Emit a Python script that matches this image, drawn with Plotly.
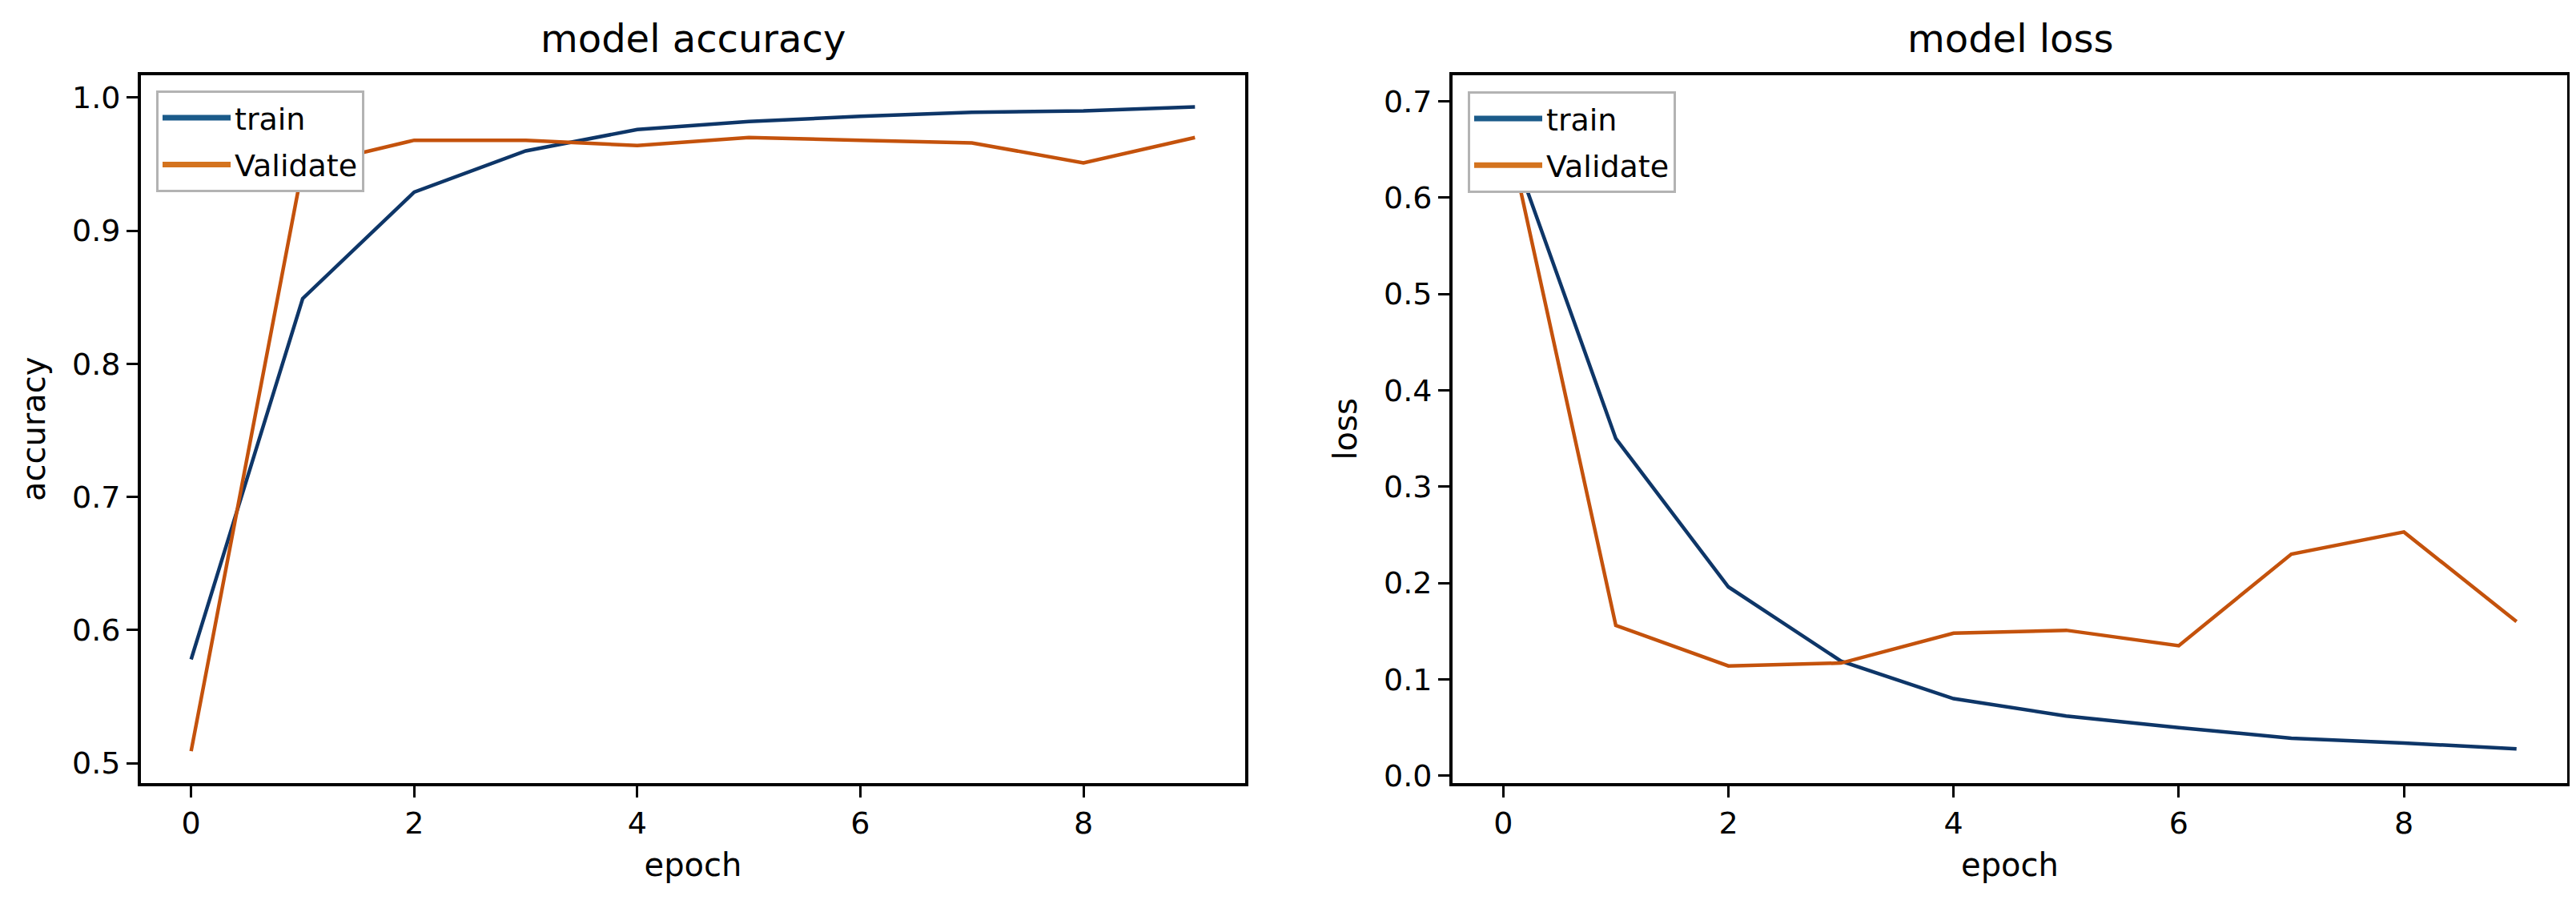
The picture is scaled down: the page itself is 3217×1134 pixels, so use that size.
import plotly.graph_objects as go

# ---- data ----
epochs = [0, 1, 2, 3, 4, 5, 6, 7, 8, 9]
train_acc = [0.578, 0.849, 0.929, 0.960, 0.976, 0.982, 0.986, 0.989, 0.990, 0.993]
val_acc = [0.509, 0.948, 0.968, 0.968, 0.964, 0.970, 0.968, 0.966, 0.951, 0.970]
train_loss = [0.677, 0.350, 0.196, 0.119, 0.080, 0.062, 0.050, 0.039, 0.034, 0.028]
val_loss = [0.690, 0.156, 0.114, 0.117, 0.148, 0.151, 0.135, 0.230, 0.253, 0.160]
x_ticks = [0, 2, 4, 6, 8]
acc_ticks = [0.5, 0.6, 0.7, 0.8, 0.9, 1.0]
loss_ticks = [0.0, 0.1, 0.2, 0.3, 0.4, 0.5, 0.6, 0.7]
series_names = ["train", "Validate"]

# ---- style ----
W, H = 3217, 1134
FONT = "DejaVu Sans"
BLUE_LINE = "#0e3668"
ORANGE_LINE = "#c4520c"
BLUE_KEY = "#1b5b8a"
ORANGE_KEY = "#d4731e"

fig = go.Figure()

def add_panel(xa, ya, legend, ys):
    for y, col in zip(ys, [BLUE_LINE, ORANGE_LINE]):
        fig.add_trace(go.Scatter(x=epochs, y=y, mode="lines", xaxis=xa, yaxis=ya,
                                 line=dict(color=col, width=4.5), showlegend=False))
    for name, col in zip(series_names, [BLUE_KEY, ORANGE_KEY]):
        fig.add_trace(go.Scatter(x=[None], y=[None], mode="lines", name=name,
                                 xaxis=xa, yaxis=ya, legend=legend,
                                 legendgroup=legend + name,
                                 line=dict(color=col, width=7), showlegend=True))

add_panel("x", "y", "legend", [train_acc, val_acc])
add_panel("x2", "y2", "legend2", [train_loss, val_loss])

ydom = [1 - 981 / H, 1 - 87 / H]
axis_common = dict(showline=True, linecolor="black", linewidth=4, mirror=True,
                   ticks="outside", ticklen=14, tickwidth=3, tickcolor="black",
                   showgrid=False, zeroline=False,
                   tickfont=dict(family=FONT, size=38, color="black"))

legend_common = dict(xanchor="left", yanchor="top",
                     bgcolor="white", bordercolor="#b3b3b3", borderwidth=3,
                     font=dict(family=FONT, size=38, color="black"), itemwidth=85,
                     tracegroupgap=6)

fig.update_layout(
    width=W, height=H,
    paper_bgcolor="white", plot_bgcolor="white",
    margin=dict(l=0, r=0, t=0, b=0),
    font=dict(family=FONT, color="black"),
    xaxis=dict(domain=[168 / W, 1547 / W], range=[-0.45, 9.45], tickvals=x_ticks,
               title=dict(text="epoch", font=dict(family=FONT, size=40), standoff=18),
               anchor="y", **axis_common),
    yaxis=dict(domain=ydom, range=[0.4852, 1.0168], tickvals=acc_ticks,
               tickformat=".1f",
               title=dict(text="accuracy", font=dict(family=FONT, size=40), standoff=22),
               anchor="x", **axis_common),
    xaxis2=dict(domain=[1806 / W, 3198 / W], range=[-0.45, 9.45], tickvals=x_ticks,
                title=dict(text="epoch", font=dict(family=FONT, size=40), standoff=18),
                anchor="y2", **axis_common),
    yaxis2=dict(domain=ydom, range=[-0.0074, 0.727], tickvals=loss_ticks,
                tickformat=".1f",
                title=dict(text="loss", font=dict(family=FONT, size=40), standoff=22),
                anchor="x2", **axis_common),
    legend=dict(x=187 / W, y=1 - 106 / H, **legend_common),
    legend2=dict(x=1825 / W, y=1 - 107 / H, **legend_common),
    annotations=[
        dict(text="model accuracy", xref="paper", yref="paper",
             x=(168 + 1547) / 2 / W, y=1 - 87 / H, xanchor="center", yanchor="bottom",
             yshift=16, showarrow=False, font=dict(family=FONT, size=48, color="black")),
        dict(text="model loss", xref="paper", yref="paper",
             x=(1806 + 3198) / 2 / W, y=1 - 87 / H, xanchor="center", yanchor="bottom",
             yshift=16, showarrow=False, font=dict(family=FONT, size=48, color="black")),
    ],
)

fig.write_html("out.html")
